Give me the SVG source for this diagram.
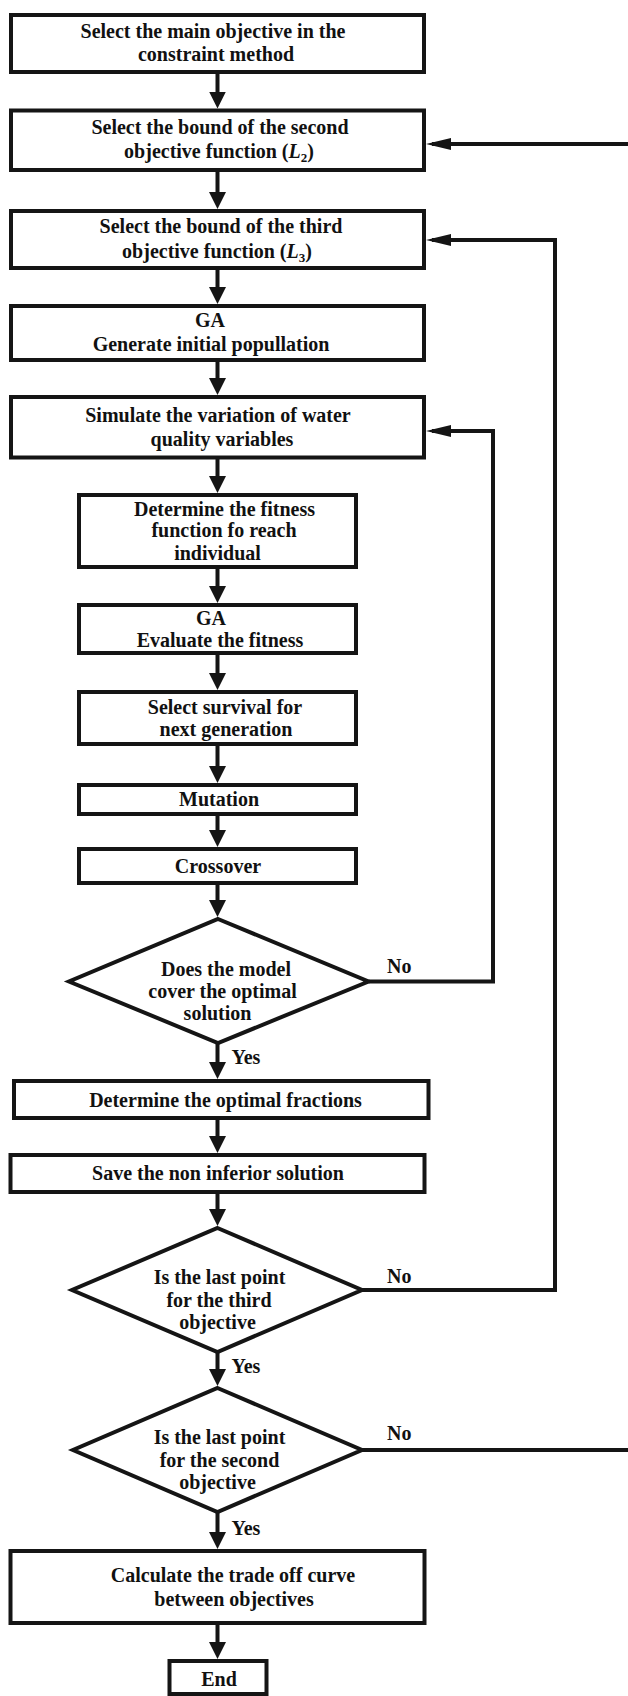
<svg xmlns="http://www.w3.org/2000/svg" width="628" height="1696" viewBox="0 0 628 1696">
<style>
.box{fill:#fff;stroke:#151515;stroke-width:4}
.dia{fill:#fff;stroke:#151515;stroke-width:4;stroke-linejoin:miter}
.con{fill:none;stroke:#151515;stroke-width:4}
.t{font-family:"Liberation Serif","Times New Roman",serif;font-weight:bold;font-size:20px;fill:#111;text-anchor:middle}
.lbl{font-family:"Liberation Serif","Times New Roman",serif;font-weight:bold;font-size:20px;fill:#111;text-anchor:start}
</style>
<defs>
<marker id="av" markerUnits="userSpaceOnUse" markerWidth="17" markerHeight="17" refX="12" refY="8.5" orient="auto">
<path d="M0,0 L17,8.5 L0,17 Z" fill="#151515"/>
</marker>
<marker id="ah" markerUnits="userSpaceOnUse" markerWidth="25" markerHeight="12" refX="19" refY="6" orient="auto">
<path d="M0,0 L25,6 L0,12 Z" fill="#151515"/>
</marker>
</defs>
<rect width="628" height="1696" fill="#fff"/>

<g id="connectors">
<path class="con" d="M217.5,72 V103.5" marker-end="url(#av)"/>
<path class="con" d="M217.5,170 V204" marker-end="url(#av)"/>
<path class="con" d="M217.5,268 V299" marker-end="url(#av)"/>
<path class="con" d="M217.5,360 V390" marker-end="url(#av)"/>
<path class="con" d="M217.5,457 V488" marker-end="url(#av)"/>
<path class="con" d="M217.5,567 V598" marker-end="url(#av)"/>
<path class="con" d="M217.5,653 V685" marker-end="url(#av)"/>
<path class="con" d="M217.5,744 V778" marker-end="url(#av)"/>
<path class="con" d="M217.5,814 V842" marker-end="url(#av)"/>
<path class="con" d="M217.5,883 V912" marker-end="url(#av)"/>
<path class="con" d="M217.5,1043 V1074" marker-end="url(#av)"/>
<path class="con" d="M217.5,1118 V1148" marker-end="url(#av)"/>
<path class="con" d="M217.5,1192 V1221" marker-end="url(#av)"/>
<path class="con" d="M217.5,1352 V1381" marker-end="url(#av)"/>
<path class="con" d="M217.5,1512 V1544" marker-end="url(#av)"/>
<path class="con" d="M217.5,1623 V1654" marker-end="url(#av)"/>
<path class="con" d="M368.5,981.5 H493 V431 H432" marker-end="url(#ah)"/>
<path class="con" d="M362,1290 H555 V240 H432" marker-end="url(#ah)"/>
<path class="con" d="M362,1450 H640 V144 H432" marker-end="url(#ah)"/>
<text class="lbl" x="387" y="972.5">No</text>
<text class="lbl" x="231.5" y="1064">Yes</text>
<text class="lbl" x="387" y="1283">No</text>
<text class="lbl" x="231.5" y="1373">Yes</text>
<text class="lbl" x="387" y="1440">No</text>
<text class="lbl" x="231.5" y="1535">Yes</text>
</g>

<g id="n1">
<rect class="box" x="11" y="15" width="413" height="57"/>
<text class="t"><tspan x="213" y="38">Select the main objective in the</tspan><tspan x="216" y="61">constraint method</tspan></text>
</g>
<g id="n2">
<rect class="box" x="11" y="110.5" width="413" height="59.5"/>
<text class="t"><tspan x="220" y="134">Select the bound of the second</tspan><tspan x="219" y="158">objective function (<tspan font-style="italic">L</tspan><tspan font-size="13" dy="4">2</tspan><tspan dy="-4">)</tspan></tspan></text>
</g>
<g id="n3">
<rect class="box" x="11" y="211" width="413" height="57"/>
<text class="t"><tspan x="221" y="233">Select the bound of the third</tspan><tspan x="217" y="258">objective function (<tspan font-style="italic">L</tspan><tspan font-size="13" dy="4">3</tspan><tspan dy="-4">)</tspan></tspan></text>
</g>
<g id="n4">
<rect class="box" x="11" y="306" width="413" height="54"/>
<text class="t"><tspan x="210" y="327">GA</tspan><tspan x="211" y="351">Generate initial popullation</tspan></text>
</g>
<g id="n5">
<rect class="box" x="11" y="397" width="413" height="60.5"/>
<text class="t"><tspan x="218" y="421.5">Simulate the variation of water</tspan><tspan x="222" y="446">quality variables</tspan></text>
</g>
<g id="n6">
<rect class="box" x="79" y="495" width="277" height="72"/>
<text class="t"><tspan x="224.5" y="515.5">Determine the fitness</tspan><tspan x="224" y="537">function fo reach</tspan><tspan x="217.5" y="560">individual</tspan></text>
</g>
<g id="n7">
<rect class="box" x="79" y="605" width="277" height="48"/>
<text class="t"><tspan x="211" y="625">GA</tspan><tspan x="220" y="646.5">Evaluate the fitness</tspan></text>
</g>
<g id="n8">
<rect class="box" x="79" y="692" width="277" height="52"/>
<text class="t"><tspan x="225" y="714">Select survival for</tspan><tspan x="226" y="736">next generation</tspan></text>
</g>
<g id="n9">
<rect class="box" x="79" y="785" width="277" height="29"/>
<text class="t" x="219" y="805.5">Mutation</text>
</g>
<g id="n10">
<rect class="box" x="79" y="849" width="277" height="34"/>
<text class="t" x="218" y="872.5">Crossover</text>
</g>
<g id="n11">
<polygon class="dia" points="218,919 368.5,981.5 218,1043 69,981.5"/>
<text class="t"><tspan x="226" y="975.5">Does the model</tspan><tspan x="222.5" y="997.5">cover the optimal</tspan><tspan x="217.5" y="1020">solution</tspan></text>
</g>
<g id="n12">
<rect class="box" x="14" y="1081" width="414.5" height="37"/>
<text class="t" x="225.5" y="1106.5">Determine the optimal fractions</text>
</g>
<g id="n13">
<rect class="box" x="10.5" y="1155" width="414" height="37"/>
<text class="t" x="218" y="1180">Save the non inferior solution</text>
</g>
<g id="n14">
<polygon class="dia" points="217.5,1228 362,1290 217.5,1352 72,1290"/>
<text class="t"><tspan x="219.5" y="1284">Is the last point</tspan><tspan x="219" y="1306.5">for the third</tspan><tspan x="217.5" y="1329">objective</tspan></text>
</g>
<g id="n15">
<polygon class="dia" points="217.5,1388 362,1450 217.5,1512 73,1450"/>
<text class="t"><tspan x="219.5" y="1444">Is the last point</tspan><tspan x="219.5" y="1467">for the second</tspan><tspan x="217.5" y="1489">objective</tspan></text>
</g>
<g id="n16">
<rect class="box" x="10.5" y="1551" width="414" height="72"/>
<text class="t"><tspan x="233" y="1581.5">Calculate the trade off curve</tspan><tspan x="234" y="1606">between objectives</tspan></text>
</g>
<g id="n17">
<rect class="box" x="169.5" y="1661" width="97" height="33"/>
<text class="t" x="219" y="1686">End</text>
</g>
</svg>
